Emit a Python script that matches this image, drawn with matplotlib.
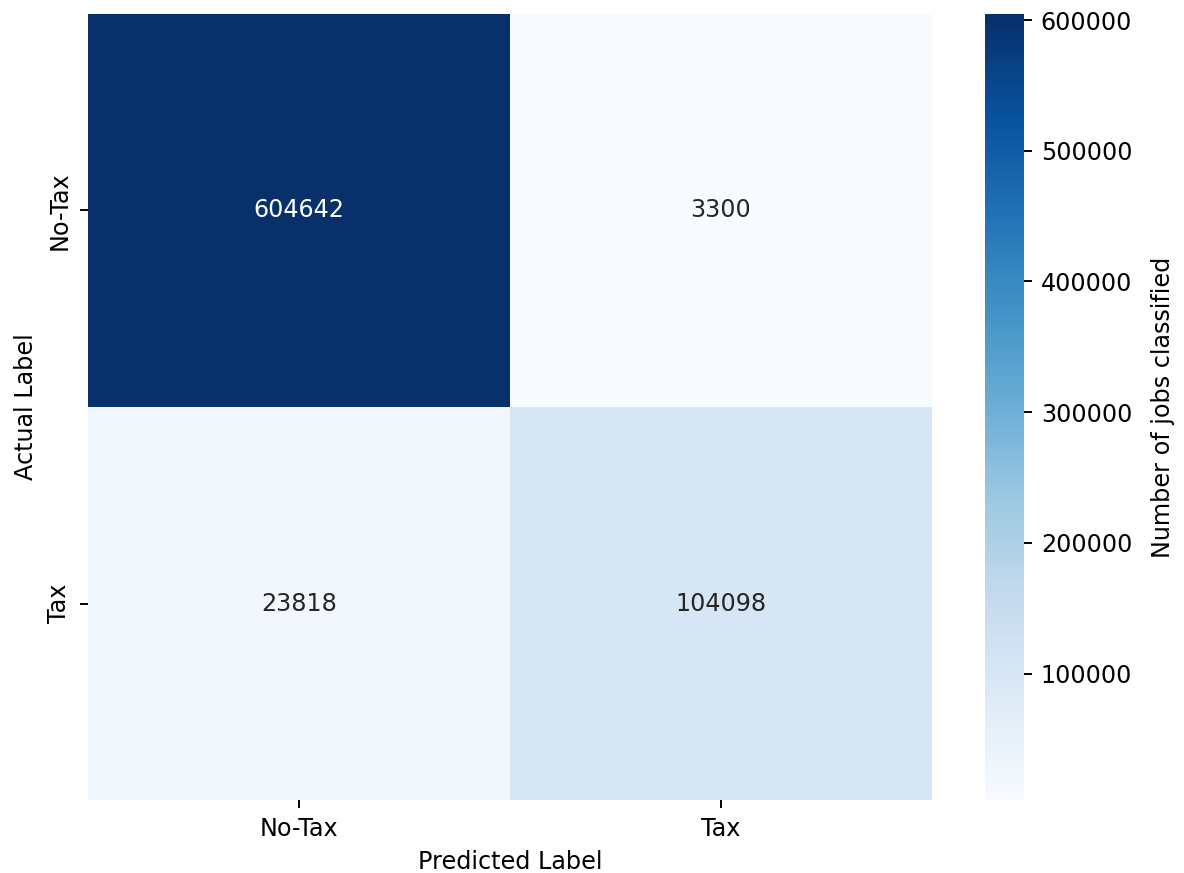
import matplotlib
matplotlib.use('Agg')
import matplotlib.pyplot as plt
import seaborn as sns
import numpy as np

labels = ['No-Tax', 'Tax']
row_no_tax = [604642, 3300]
row_tax = [23818, 104098]

DPI = 172


def make_heatmap(cm):
    fig = plt.figure(figsize=(1184 / DPI, 873 / DPI), dpi=DPI)
    ax = fig.add_axes([0.0743, 0.0836, 0.7128, 0.9004])
    cax = fig.add_axes([0.8319, 0.0836, 0.0330, 0.9004])
    sns.heatmap(cm, annot=True, fmt='d', cmap='Blues', ax=ax, cbar_ax=cax,
                xticklabels=labels, yticklabels=labels)
    cax.set_ylabel('Number of jobs classified', labelpad=8)
    ax.set(xlabel='Predicted Label', ylabel='Actual Label')
    return fig, ax


def main():
    cm = np.array([row_no_tax, row_tax])
    fig, ax = make_heatmap(cm)
    fig.savefig('out.png', dpi=DPI)


if __name__ == '__main__':
    main()
